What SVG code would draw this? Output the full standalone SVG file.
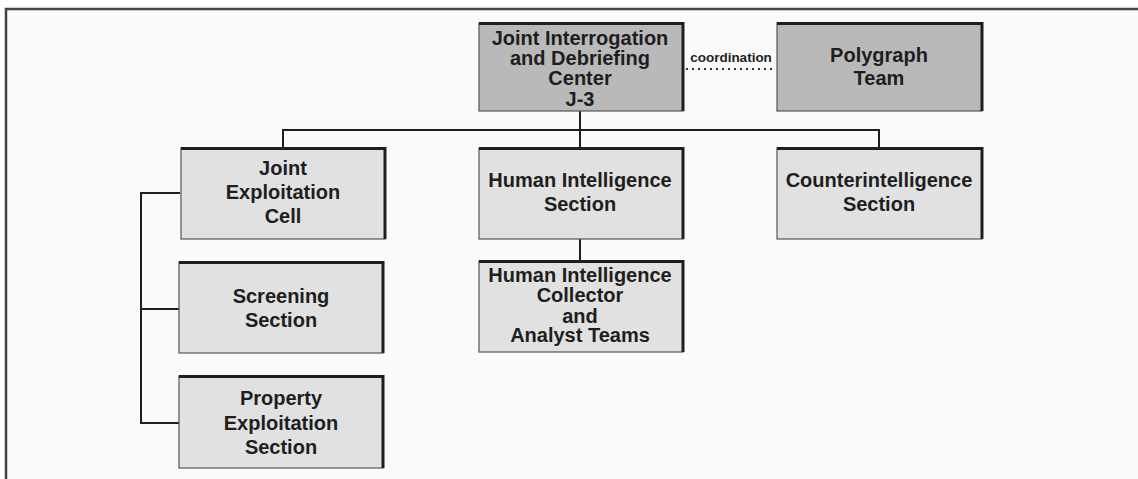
<svg xmlns="http://www.w3.org/2000/svg" width="1138" height="479" viewBox="0 0 1138 479">
<style>
.box{stroke:#555;stroke-width:1.2}
.lt{fill:#e1e1e1}
.dk{fill:#b9b9b9}
.sh{fill:none;stroke:#1e1e1e;stroke-width:3;stroke-linejoin:miter}
.t{font-family:"Liberation Sans",Arial,sans-serif;font-weight:bold;font-size:20px;fill:#1e1e1e;text-anchor:middle}
.c{fill:none;stroke:#1e1e1e;stroke-width:2}
</style>
<rect x="0" y="0" width="1138" height="479" fill="#ffffff"/>
<rect x="6" y="9" width="1140" height="480" fill="#fafafa" stroke="#444" stroke-width="2.5"/>
<g id="connectors">
<line class="c" x1="580" y1="111" x2="580" y2="148"/>
<polyline class="c" points="283,148 283,130 879,130 879,148"/>
<line class="c" x1="580" y1="239" x2="580" y2="261"/>
<polyline class="c" points="180,193 141,193 141,423 179,423"/>
<line class="c" x1="141" y1="309" x2="179" y2="309"/>
<line x1="686" y1="69" x2="776" y2="69" stroke="#333" stroke-width="2" stroke-dasharray="2,4"/>
<text x="731" y="62" class="t" style="font-size:13.5px">coordination</text>
</g>
<g id="jidc">
<rect class="box dk" x="479" y="23" width="204" height="88"/>
<polyline class="sh" points="479,23.5 683,23.5 683,111"/>
<text class="t" x="580" y="45">Joint Interrogation</text>
<text class="t" x="580" y="65">and Debriefing</text>
<text class="t" x="580" y="85">Center</text>
<text class="t" x="580" y="106">J-3</text>
</g>
<g id="polygraph">
<rect class="box dk" x="777" y="23" width="205" height="88"/>
<polyline class="sh" points="777,23.5 982,23.5 982,111"/>
<text class="t" x="879" y="62">Polygraph</text>
<text class="t" x="879" y="85">Team</text>
</g>
<g id="jec">
<rect class="box lt" x="181" y="148" width="204" height="91"/>
<polyline class="sh" points="181,148.5 385,148.5 385,239"/>
<text class="t" x="283" y="175">Joint</text>
<text class="t" x="283" y="199">Exploitation</text>
<text class="t" x="283" y="223">Cell</text>
</g>
<g id="humint">
<rect class="box lt" x="479" y="148" width="204" height="91"/>
<polyline class="sh" points="479,148.5 683,148.5 683,239"/>
<text class="t" x="580" y="187">Human Intelligence</text>
<text class="t" x="580" y="211">Section</text>
</g>
<g id="ci">
<rect class="box lt" x="777" y="148" width="205" height="91"/>
<polyline class="sh" points="777,148.5 982,148.5 982,239"/>
<text class="t" x="879" y="187">Counterintelligence</text>
<text class="t" x="879" y="211">Section</text>
</g>
<g id="collector">
<rect class="box lt" x="479" y="261" width="204" height="91"/>
<polyline class="sh" points="479,261.5 683,261.5 683,352"/>
<text class="t" x="580" y="282">Human Intelligence</text>
<text class="t" x="580" y="302">Collector</text>
<text class="t" x="580" y="323">and</text>
<text class="t" x="580" y="342">Analyst Teams</text>
</g>
<g id="screening">
<rect class="box lt" x="179" y="262" width="204" height="91"/>
<polyline class="sh" points="179,262.5 383,262.5 383,353"/>
<text class="t" x="281" y="303">Screening</text>
<text class="t" x="281" y="327">Section</text>
</g>
<g id="property">
<rect class="box lt" x="179" y="376" width="204" height="92"/>
<polyline class="sh" points="179,376.5 383,376.5 383,468"/>
<text class="t" x="281" y="405">Property</text>
<text class="t" x="281" y="430">Exploitation</text>
<text class="t" x="281" y="454">Section</text>
</g>
</svg>
